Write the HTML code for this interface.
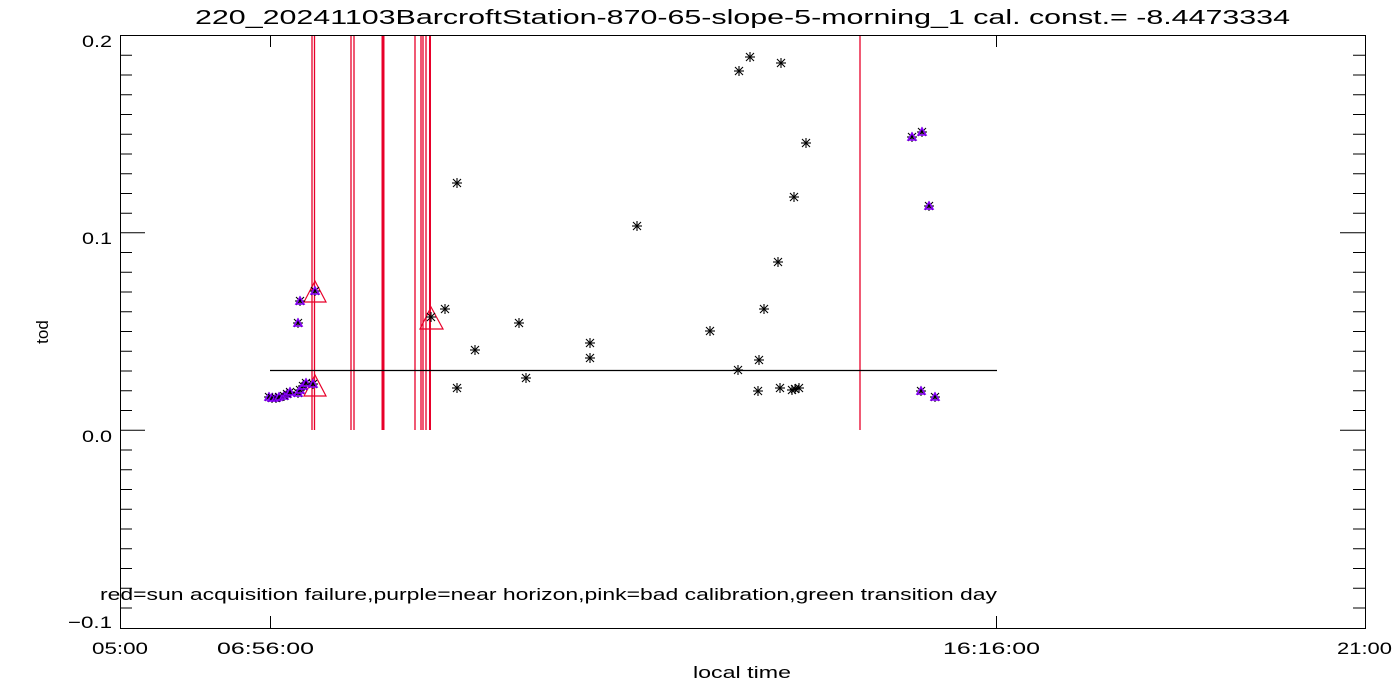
<!DOCTYPE html>
<html><head><meta charset="utf-8"><style>
html,body{margin:0;padding:0;background:#fff;}
svg{display:block;font-family:"Liberation Sans","DejaVu Sans",sans-serif;}
</style></head><body>
<svg width="1400" height="700" viewBox="0 0 1400 700" xmlns="http://www.w3.org/2000/svg">
<defs>
<g id="st" stroke="#000" stroke-width="1.1"><line x1="-5" y1="0" x2="5" y2="0"/><line x1="0" y1="-5" x2="0" y2="5"/><line x1="-4" y1="-4" x2="4" y2="4"/><line x1="-4" y1="4" x2="4" y2="-4"/></g>
<g id="pt"><use href="#st"/><path d="M0,-4 L4,3 L-4,3 Z" fill="none" stroke="#8a00ff" stroke-width="1.5"/></g>
</defs>
<rect width="1400" height="700" fill="#fff"/>
<text x="195" y="24" font-size="20" textLength="1095" lengthAdjust="spacingAndGlyphs" fill="#000">220_20241103BarcroftStation-870-65-slope-5-morning_1 cal. const.= -8.4473334</text>
<g stroke="#e8002a" stroke-width="1.3">
<line x1="312" y1="35" x2="312" y2="430"/><line x1="314.5" y1="35" x2="314.5" y2="430"/>
<line x1="351" y1="35" x2="351" y2="430"/><line x1="354" y1="35" x2="354" y2="430"/>
<line x1="383" y1="35" x2="383" y2="430" stroke-width="3"/>
<line x1="415" y1="35" x2="415" y2="430"/><line x1="421" y1="35" x2="421" y2="430"/><line x1="423" y1="35" x2="423" y2="430"/>
<line x1="426" y1="35" x2="426" y2="430"/><line x1="430" y1="35" x2="430" y2="430" stroke-width="2"/>
<line x1="860" y1="35" x2="860" y2="430"/>
</g>
<line x1="270" y1="370.5" x2="997" y2="370.5" stroke="#000" stroke-width="1.3"/>
<g fill="none" stroke="#e8002a" stroke-width="1.2">
<path d="M315,281 L326,302 L304,302 Z"/><path d="M315,375 L326,396 L304,396 Z"/><path d="M431,307 L443,329 L420,329 Z"/>
</g>
<g>
<use href="#st" x="457" y="183"/><use href="#st" x="445" y="309"/><use href="#st" x="475" y="350"/><use href="#st" x="457" y="388"/>
<use href="#st" x="519" y="323"/><use href="#st" x="526" y="378"/><use href="#st" x="590" y="343"/><use href="#st" x="590" y="358"/>
<use href="#st" x="637" y="226"/><use href="#st" x="710" y="331"/><use href="#st" x="738" y="370"/><use href="#st" x="739" y="71"/>
<use href="#st" x="750" y="57"/><use href="#st" x="781" y="63"/><use href="#st" x="806" y="143"/><use href="#st" x="794" y="197"/>
<use href="#st" x="778" y="262"/><use href="#st" x="764" y="309"/><use href="#st" x="759" y="360"/><use href="#st" x="758" y="391"/>
<use href="#st" x="780" y="388"/><use href="#st" x="792" y="390"/><use href="#st" x="795" y="389"/><use href="#st" x="799" y="388"/>
<use href="#st" x="431" y="317"/>
<use href="#pt" x="269" y="397"/><use href="#pt" x="272" y="398"/><use href="#pt" x="276" y="398"/><use href="#pt" x="279" y="397"/>
<use href="#pt" x="284" y="396"/><use href="#pt" x="287" y="394"/><use href="#pt" x="290" y="392"/><use href="#pt" x="298" y="393"/>
<use href="#pt" x="300" y="390"/><use href="#pt" x="303" y="386"/><use href="#pt" x="306" y="383"/><use href="#pt" x="313" y="384"/>
<use href="#pt" x="298" y="323"/><use href="#pt" x="300" y="301"/><use href="#pt" x="315" y="291"/>
<use href="#pt" x="912" y="137"/><use href="#pt" x="922" y="132"/><use href="#pt" x="929" y="206"/><use href="#pt" x="921" y="391"/><use href="#pt" x="935" y="397"/>
</g>
<rect x="120.5" y="35.5" width="1245" height="593" fill="none" stroke="#000" stroke-width="1"/>
<g stroke="#000" stroke-width="1">
<path d="M120,55.3h12M120,75h12M120,94.8h12M120,114.5h12M120,134.3h12M120,154h12M120,173.8h12M120,193.5h12M120,213.3h12M120,232.7h25M120,252.5h12M120,272.2h12M120,292h12M120,311.7h12M120,331.5h12M120,351.2h12M120,371h12M120,390.7h12M120,410.5h12M120,430.3h25M120,450h12M120,469.8h12M120,489.5h12M120,509.3h12M120,529h12M120,548.8h12M120,568.5h12M120,588.3h12M120,608h12"/>
<path d="M1365,55.3h-12M1365,75h-12M1365,94.8h-12M1365,114.5h-12M1365,134.3h-12M1365,154h-12M1365,173.8h-12M1365,193.5h-12M1365,213.3h-12M1365,232.7h-25M1365,252.5h-12M1365,272.2h-12M1365,292h-12M1365,311.7h-12M1365,331.5h-12M1365,351.2h-12M1365,371h-12M1365,390.7h-12M1365,410.5h-12M1365,430.3h-25M1365,450h-12M1365,469.8h-12M1365,489.5h-12M1365,509.3h-12M1365,529h-12M1365,548.8h-12M1365,568.5h-12M1365,588.3h-12M1365,608h-12"/>
<path d="M270.5,35v12M996.5,35v12M270.5,628v-12M996.5,628v-12"/>
</g>
<g font-size="17" fill="#000">
<text x="82" y="47" textLength="30" lengthAdjust="spacingAndGlyphs">0.2</text>
<text x="82" y="244" textLength="30" lengthAdjust="spacingAndGlyphs">0.1</text>
<text x="82" y="442" textLength="30" lengthAdjust="spacingAndGlyphs">0.0</text>
<text x="68" y="628" textLength="44" lengthAdjust="spacingAndGlyphs">−0.1</text>
<text x="92" y="654" textLength="56" lengthAdjust="spacingAndGlyphs">05:00</text>
<text x="217" y="654" textLength="97" lengthAdjust="spacingAndGlyphs">06:56:00</text>
<text x="943" y="654" textLength="97" lengthAdjust="spacingAndGlyphs">16:16:00</text>
<text x="1337" y="654" textLength="55" lengthAdjust="spacingAndGlyphs">21:00</text>
<text x="693" y="678" textLength="98" lengthAdjust="spacingAndGlyphs">local time</text>
<text x="48" y="332" text-anchor="middle" transform="rotate(-90 48 332)">tod</text>
<text x="100" y="600" textLength="897" lengthAdjust="spacingAndGlyphs">red=sun acquisition failure,purple=near horizon,pink=bad calibration,green transition day</text>
</g>
</svg>
</body></html>
